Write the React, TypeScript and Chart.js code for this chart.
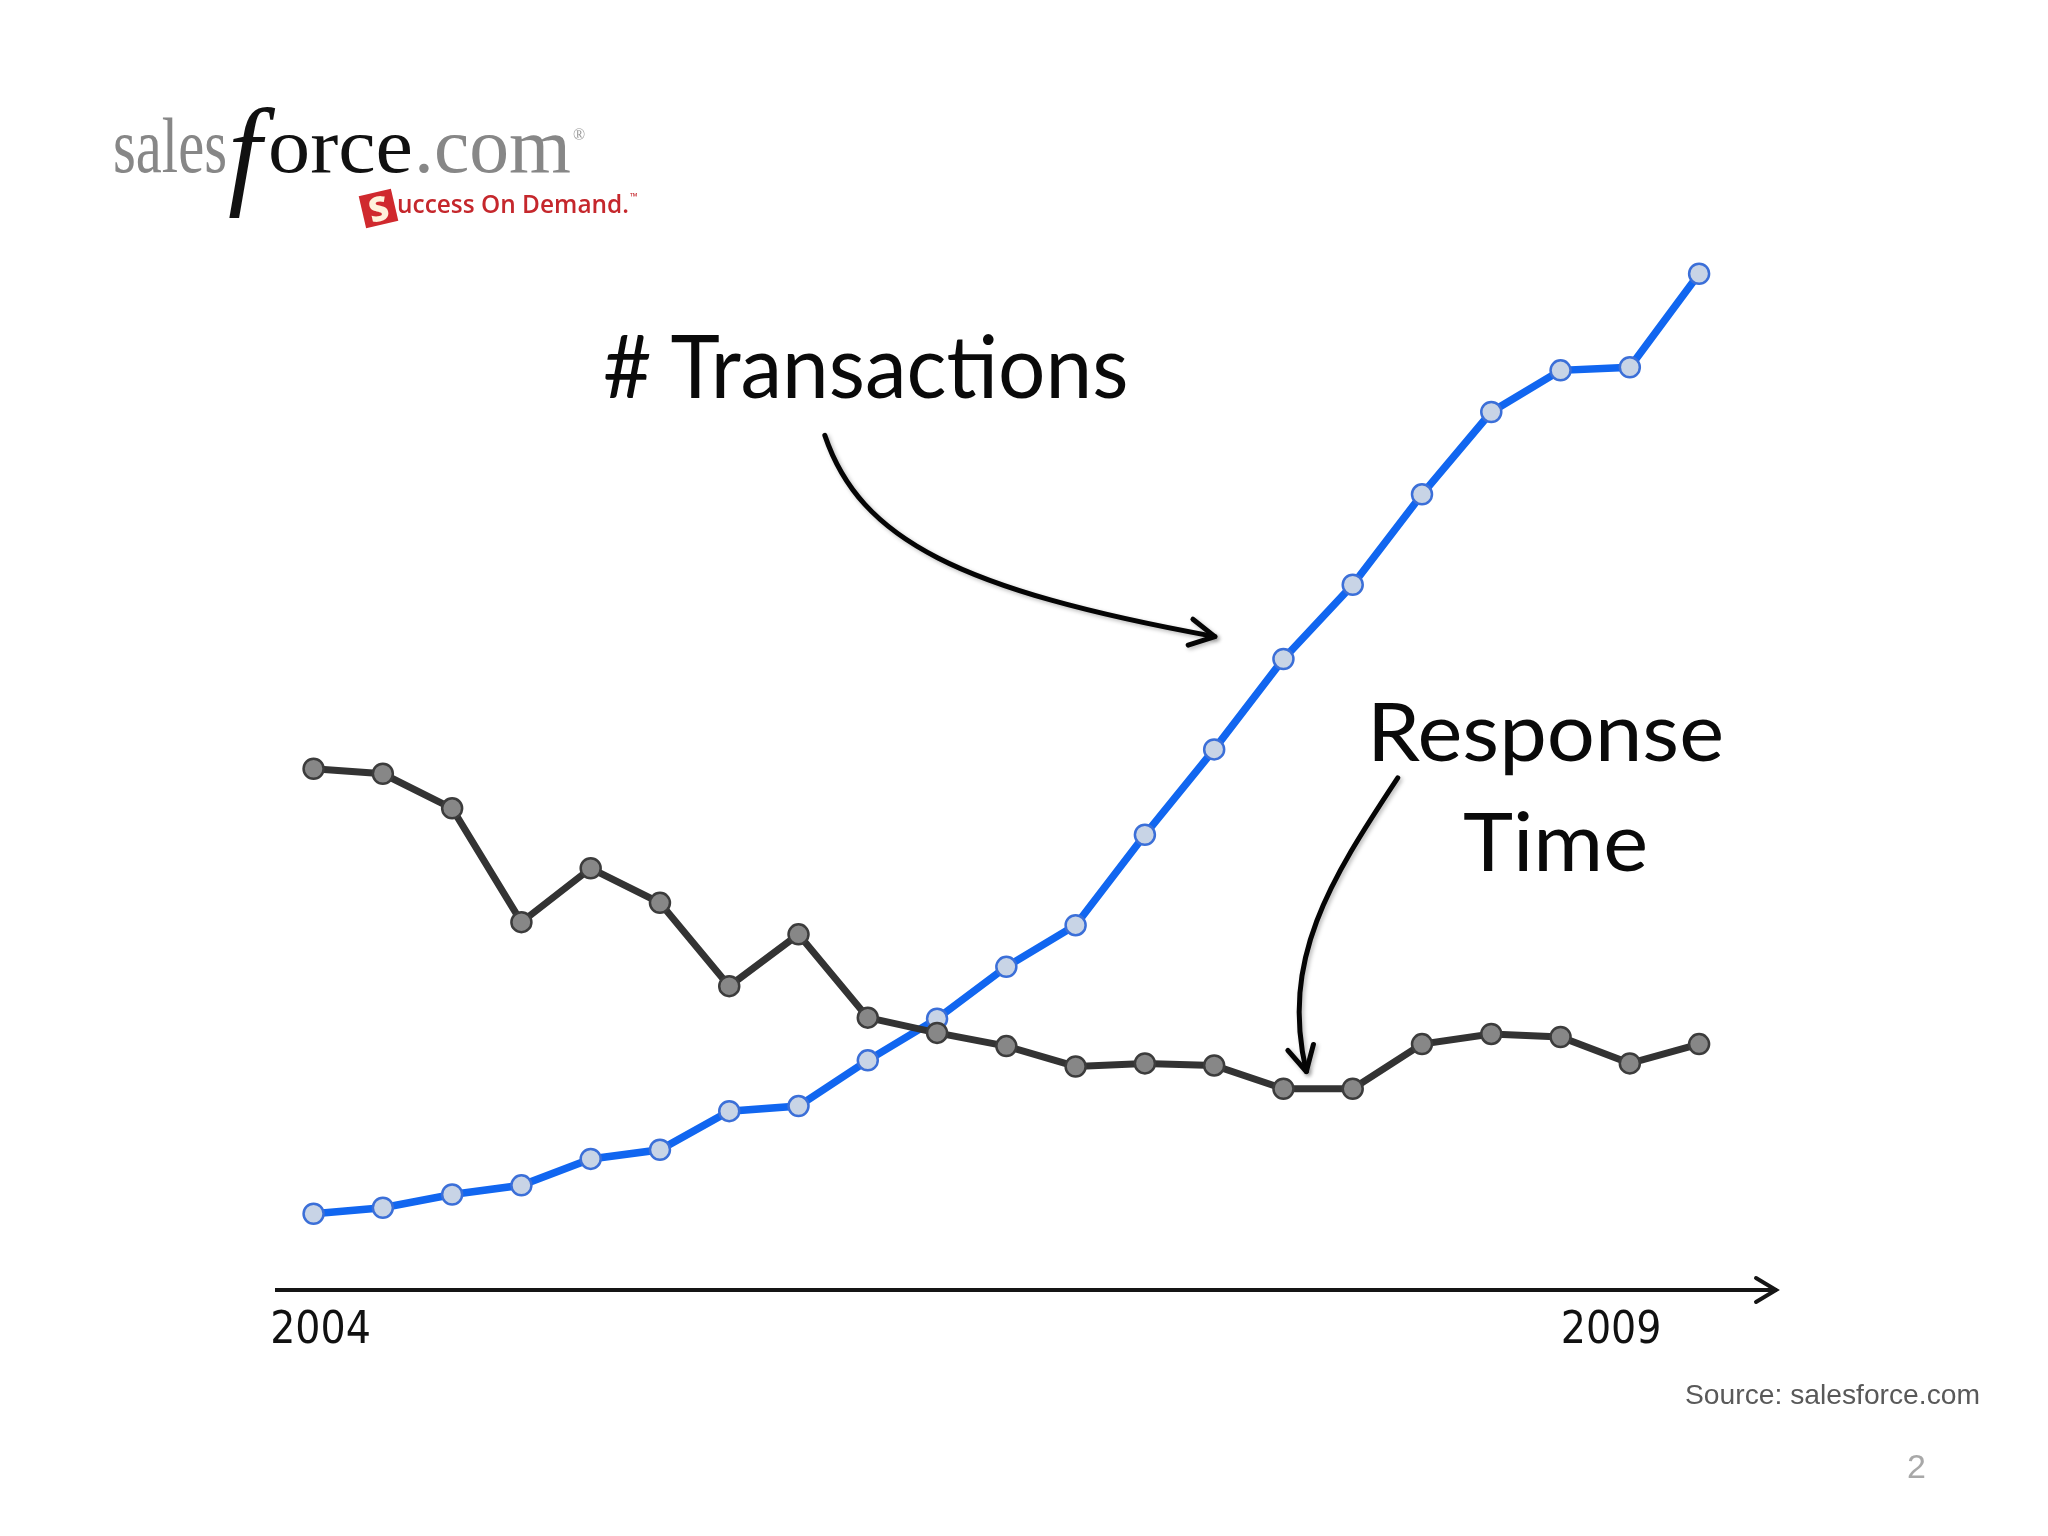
import React, { useEffect, useRef } from "react";
import { Chart, registerables } from "chart.js";

Chart.register(...registerables);

// ---- Data (relative units) ----
const quarterIndex = [0, 1, 2, 3, 4, 5, 6, 7, 8, 9, 10, 11, 12, 13, 14, 15, 16, 17, 18, 19, 20];
const transactions = [7.5, 8.1, 9.4, 10.3, 12.9, 13.8, 17.6, 18.1, 22.6, 26.7, 31.8, 35.9, 44.8, 53.2, 62.1, 69.4, 78.3, 86.4, 90.5, 90.8, 100];
const responseTime = [51.3, 50.8, 47.4, 36.2, 41.5, 38.1, 29.9, 35.0, 26.8, 25.3, 24.0, 22.0, 22.3, 22.1, 19.8, 19.8, 24.2, 25.2, 24.9, 22.3, 24.2];
const xTickValues = [0.1, 18.73];
const xTickLabels = ["2004", "2009"];
// annotation arrows as cubic curves in (index, value) units
const transArrow = [[7.38, 84.1], [7.89, 73.8], [9.33, 68.9], [13.01, 64.3]];
const respArrow = [[15.65, 50.4], [14.67, 40.3], [13.95, 32.5], [14.33, 21.5]];

type FT = {
  text: string;
  family: string;
  size: number;
  weight?: string;
  fstyle?: string;
  left: number;
  baseline: number;
  width?: number;
  color: string;
};

let measureCtx: CanvasRenderingContext2D | null = null;
function measure(text: string, font: string) {
  if (!measureCtx) measureCtx = document.createElement("canvas").getContext("2d");
  const c = measureCtx!;
  c.font = font;
  const m = c.measureText(text);
  return { w: m.width, asc: m.fontBoundingBoxAscent, desc: m.fontBoundingBoxDescent };
}

function FitText(p: FT) {
  const weight = p.weight || "normal";
  const fstyle = p.fstyle || "normal";
  const font = `${fstyle} ${weight} ${p.size}px ${p.family}`;
  const m = measure(p.text, font);
  const sx = p.width ? p.width / m.w : 1;
  return (
    <div
      style={{
        position: "absolute",
        left: p.left,
        top: p.baseline - m.asc,
        fontFamily: p.family,
        fontSize: p.size,
        fontWeight: weight as any,
        fontStyle: fstyle,
        lineHeight: `${m.asc + m.desc}px`,
        color: p.color,
        whiteSpace: "pre",
        transform: `scaleX(${sx})`,
        transformOrigin: "0 0",
      }}
    >
      {p.text}
    </div>
  );
}

const SERIF = '"Liberation Serif", "DejaVu Serif", serif';
const LATO = 'Lato, "Open Sans", sans-serif';

export default function App() {
  const canvasRef = useRef<HTMLCanvasElement | null>(null);

  useEffect(() => {
    const canvas = canvasRef.current;
    if (!canvas) return;

    const drawCurveArrow = (chart: any, pts: number[][]) => {
      const xs = chart.scales.x;
      const ys = chart.scales.y;
      const P = pts.map(([a, b]) => [xs.getPixelForValue(a), ys.getPixelForValue(b)]);
      const ctx = chart.ctx;
      ctx.save();
      ctx.shadowColor = "rgba(0,0,0,0.28)";
      ctx.shadowBlur = 4;
      ctx.shadowOffsetX = 2;
      ctx.shadowOffsetY = 2;
      ctx.strokeStyle = "#050505";
      ctx.lineWidth = 5;
      ctx.lineCap = "round";
      ctx.lineJoin = "round";
      ctx.beginPath();
      ctx.moveTo(P[0][0], P[0][1]);
      ctx.bezierCurveTo(P[1][0], P[1][1], P[2][0], P[2][1], P[3][0], P[3][1]);
      ctx.stroke();
      const ang = Math.atan2(P[3][1] - P[2][1], P[3][0] - P[2][0]) + Math.PI;
      const len = 28;
      const spread = (28 * Math.PI) / 180;
      ctx.beginPath();
      ctx.moveTo(P[3][0] + len * Math.cos(ang - spread), P[3][1] + len * Math.sin(ang - spread));
      ctx.lineTo(P[3][0], P[3][1]);
      ctx.lineTo(P[3][0] + len * Math.cos(ang + spread), P[3][1] + len * Math.sin(ang + spread));
      ctx.stroke();
      ctx.restore();
    };

    const annotations = {
      id: "annotArrows",
      afterDraw(chart: any) {
        const ca = chart.chartArea;
        const ctx = chart.ctx;
        // arrowhead of the time axis
        ctx.save();
        ctx.strokeStyle = "#151515";
        ctx.lineWidth = 4;
        ctx.lineCap = "round";
        ctx.lineJoin = "miter";
        ctx.beginPath();
        ctx.moveTo(ca.right - 20, ca.bottom - 12);
        ctx.lineTo(ca.right, ca.bottom);
        ctx.lineTo(ca.right - 20, ca.bottom + 12);
        ctx.stroke();
        ctx.restore();
        drawCurveArrow(chart, transArrow);
        drawCurveArrow(chart, respArrow);
      },
    };

    const chart = new Chart(canvas, {
      type: "line",
      data: {
        datasets: [
          {
            label: "Response Time",
            data: quarterIndex.map((x, i) => ({ x, y: responseTime[i] })),
            borderColor: "#333333",
            borderWidth: 7,
            pointRadius: 10,
            pointBorderWidth: 2.5,
            pointBackgroundColor: "#878787",
            pointBorderColor: "#3c3c3c",
            tension: 0,
          },
          {
            label: "# Transactions",
            data: quarterIndex.map((x, i) => ({ x, y: transactions[i] })),
            borderColor: "#1166f0",
            borderWidth: 7.5,
            pointRadius: 10,
            pointBorderWidth: 2.5,
            pointBackgroundColor: "#c8d4e6",
            pointBorderColor: "#3b6fd8",
            tension: 0,
          },
        ],
      },
      options: {
        animation: false,
        responsive: false,
        maintainAspectRatio: false,
        devicePixelRatio: 1,
        layout: { padding: { left: 277, right: 272, top: 223, bottom: 146 } },
        plugins: {
          legend: { display: false },
          tooltip: { enabled: false },
          title: { display: false },
        },
        scales: {
          x: {
            type: "linear",
            min: -0.528,
            max: 21.11,
            grid: { display: false, drawTicks: false },
            border: { display: true, color: "#151515", width: 4 },
            afterBuildTicks: (s: any) => {
              s.ticks = xTickValues.map((v) => ({ value: v }));
            },
            afterFit: (s: any) => {
              s.height = 100;
            },
            ticks: {
              autoSkip: false,
              maxRotation: 0,
              padding: 15,
              color: "#111",
              font: { family: '"Liberation Sans Narrow", "DejaVu Sans Condensed", sans-serif', size: 44 },
              callback: (_v: any, i: number) => xTickLabels[i],
            },
          },
          y: { display: false, min: 0, max: 105 },
        },
      },
      plugins: [annotations],
    } as any);

    return () => chart.destroy();
  }, []);

  return (
    <div style={{ position: "absolute", left: 0, top: 0, width: 2048, height: 1536, background: "#ffffff", overflow: "hidden" }}>
      <canvas ref={canvasRef} width={2048} height={1536} style={{ position: "absolute", left: 0, top: 0, width: 2048, height: 1536 }} />

      {/* logo */}
      <FitText text="sales" family={SERIF} size={78} left={113} baseline={172} width={114} color="#878787" />
      <FitText text="f" family={SERIF} size={120} fstyle="italic" left={228} baseline={192} color="#111" />
      <FitText text="orce" family={SERIF} size={78} left={268} baseline={172} width={145} color="#111" />
      <FitText text=".com" family={SERIF} size={78} left={414} baseline={172} width={157} color="#878787" />
      <FitText text="®" family={SERIF} size={16} left={573} baseline={140} color="#999" />
      <div
        style={{
          position: "absolute",
          left: 362,
          top: 192,
          width: 33,
          height: 33,
          background: "#d0292e",
          transform: "rotate(-13deg)",
          color: "#fff3dc",
          fontFamily: '"Open Sans", sans-serif',
          fontWeight: 800,
          fontSize: 34,
          lineHeight: "33px",
          textAlign: "center",
        }}
      >
        S
      </div>
      <FitText text="uccess On Demand." family='"Open Sans", sans-serif' size={26} weight="600" left={397} baseline={213} width={232} color="#c5272c" />
      <FitText text="™" family='"Open Sans", sans-serif' size={10} left={630} baseline={200} color="#c5272c" />

      {/* annotations */}
      <FitText text="# Transactions" family={LATO} size={87} left={603} baseline={398} width={528} color="#0a0a0a" />
      <FitText text="Response" family={LATO} size={82} left={1367} baseline={761} width={357} color="#0a0a0a" />
      <FitText text="Time" family={LATO} size={82} left={1463} baseline={871} width={185} color="#0a0a0a" />

      {/* footer */}
      <FitText text="Source: salesforce.com" family='"Liberation Sans", Arial, sans-serif' size={28} left={1685} baseline={1404} width={295} color="#595959" />
      <FitText text="2" family='"Liberation Sans", Arial, sans-serif' size={34} left={1907} baseline={1478} color="#a8a8a8" />
    </div>
  );
}
